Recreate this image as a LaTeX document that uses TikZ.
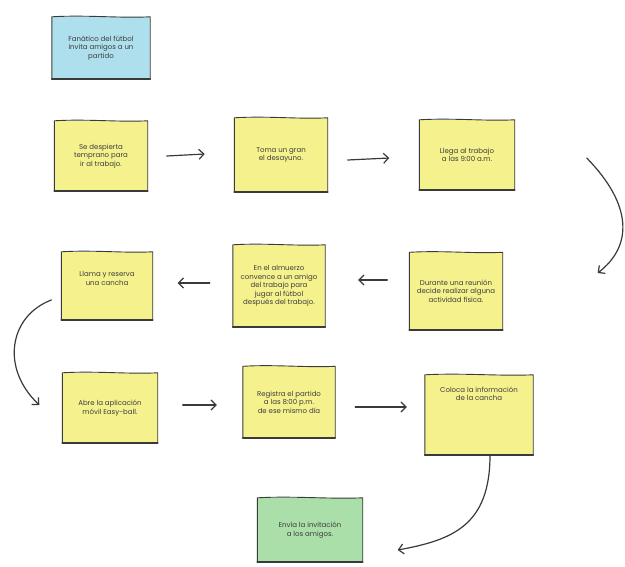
\documentclass[tikz,border=0pt]{standalone}
\usepackage{fontspec}
\setmainfont{Poppins}
\usetikzlibrary{calc,arrows.meta}
\definecolor{noteyellow}{HTML}{F5F28E}
\definecolor{noteblue}{HTML}{AEDFEC}
\definecolor{notegreen}{HTML}{AADFA9}
\definecolor{ink}{HTML}{3A3A3A}
\definecolor{penink}{HTML}{3C3C3C}
\tikzset{
  x=1pt, y=-1pt,
  note/.style={fill=noteyellow, align=center, text=penink,
    font=\fontsize{7}{8.6}\selectfont, inner sep=2pt},
  edge/.style={draw=ink, line width=0.9pt, line join=round},
  flow/.style={draw=ink, line width=1.2pt, line cap=round,
    -{Straight Barb[length=5pt,width=10pt,line width=1.2pt]}},
}
% outline of a sticky note: slightly wavy top and a heavier bottom edge
\newcommand\sketchbox[1]{%
  \draw[edge] (#1.south west) -- (#1.north west)
    .. controls ($(#1.north west)!0.35!(#1.north east)+(0,-2)$)
    and ($(#1.north west)!0.7!(#1.north east)+(0,1.5)$) .. (#1.north east)
    -- (#1.south east) -- cycle;
  \draw[draw=ink, line width=1.7pt, line cap=round] (#1.south west) -- (#1.south east);}
\begin{document}
\begin{tikzpicture}
\useasboundingbox[fill=white] (0,0) rectangle (625,567);

% notes
\node[note, fill=noteblue, minimum width=98pt, minimum height=62pt] (fan) at (101,48)
  {Fanático del fútbol\\invita amigos a un\\partido};

\node[note, minimum width=93pt, minimum height=70pt] (wake) at (101,156)
  {Se despierta\\temprano para\\ir al trabajo.};
\node[note, minimum width=93pt, minimum height=74pt] (breakfast) at (281,155)
  {Toma un gran\\el desayuno.};
\node[note, minimum width=95pt, minimum height=70pt] (arrive) at (467,155)
  {Llega al trabajo\\a las 9:00 a.m.};

\node[note, minimum width=93pt, minimum height=77pt] (meeting) at (456,291)
  {Durante una reunión\\decide realizar alguna\\actividad física.};
\node[note, minimum width=92pt, minimum height=82pt] (lunch) at (279,286)
  {En el almuerzo\\convence a un amigo\\del trabajo para\\jugar al fútbol\\después del trabajo.};
\node[note, minimum width=91pt, minimum height=68pt] (call) at (107,286)
  {Llama y reserva\\una cancha\\[6pt]\mbox{}};

\node[note, minimum width=95pt, minimum height=70pt] (app) at (110,408)
  {Abre la aplicación\\móvil Easy-ball.};
\node[note, minimum width=92pt, minimum height=71pt] (register) at (289,402)
  {Registra el partido\\a las 8:00 p.m.\\de ese mismo día};
\node[note, minimum width=108pt, minimum height=80pt] (court) at (479,415)
  {Coloca la información\\de la cancha\\[34pt]\mbox{}};

\node[note, fill=notegreen, minimum width=105pt, minimum height=64pt] (invite) at (310,530)
  {Envía la invitación\\a los amigos.};

\foreach \n in {fan,wake,breakfast,arrive,meeting,lunch,call,app,register,court,invite}
  \sketchbox{\n};

% connectors
\draw[flow] ($(wake.east)+(19,0)$) -- ($(wake.east)+(57,-2)$);
\draw[flow] ($(breakfast.east)+(20,5)$) -- ($(arrive.west)+(-30,3)$);
\draw[flow] ($(arrive.east)+(72,3)$)
  .. controls ($(arrive.east)+(118,50)$) and ($(meeting.east)+(130,-45)$) .. ($(meeting.east)+(95,-18)$);
\draw[flow] ($(meeting.west)+(-22,-11)$) -- ($(lunch.east)+(33,-6)$);
\draw[flow] ($(lunch.west)+(-23,-3)$) -- ($(call.east)+(25,-3)$);
\draw[flow] ($(call.west)+(-10,14)$)
  .. controls ($(call.west)+(-52,30)$) and ($(app.west)+(-62,-40)$) .. ($(app.west)+(-23,-3)$);
\draw[flow] ($(app.east)+(25,-3)$) -- ($(register.west)+(-26,3)$);
\draw[flow] ($(register.east)+(20,5)$) -- ($(court.west)+(-18,-8)$);
\draw[flow] ($(court.south)+(11,0)$)
  .. controls ($(court.south)+(11,70)$) and ($(invite.east)+(90,10)$) .. ($(invite.east)+(35,20)$);
\end{tikzpicture}
\end{document}
